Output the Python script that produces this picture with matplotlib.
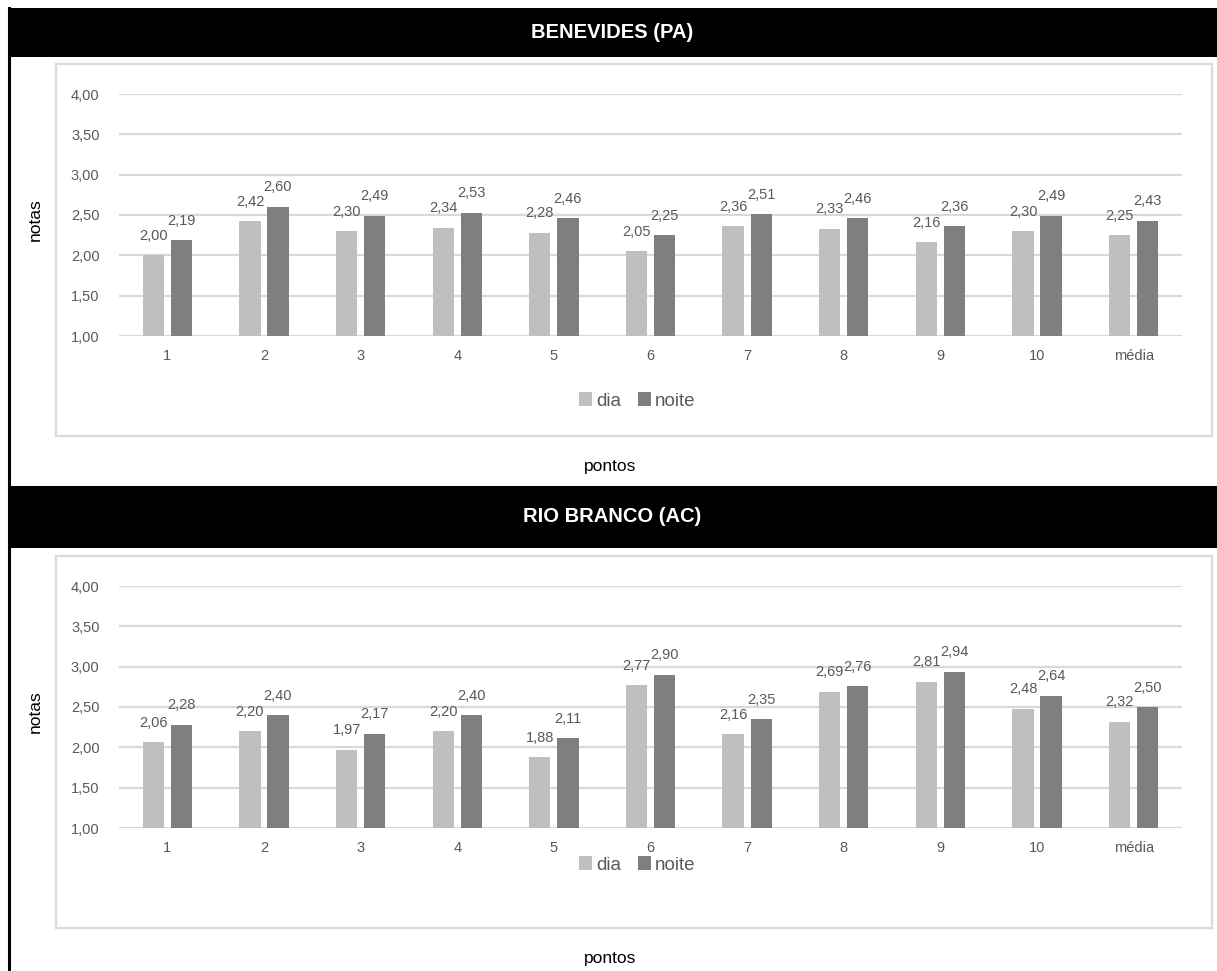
import matplotlib
matplotlib.use("Agg")
import matplotlib.pyplot as plt
from matplotlib.patches import Rectangle
from matplotlib.lines import Line2D
import numpy as np

plt.rcParams['font.family'] = ['Liberation Sans', 'DejaVu Sans']

categories = ["1", "2", "3", "4", "5", "6", "7", "8", "9", "10", "média"]
series_names = ["dia", "noite"]
titles = ["BENEVIDES (PA)", "RIO BRANCO (AC)"]

benevides_dia = [2.00, 2.42, 2.30, 2.34, 2.28, 2.05, 2.36, 2.33, 2.16, 2.30, 2.25]
benevides_noite = [2.19, 2.60, 2.49, 2.53, 2.46, 2.25, 2.51, 2.46, 2.36, 2.49, 2.43]
riobranco_dia = [2.06, 2.20, 1.97, 2.20, 1.88, 2.77, 2.16, 2.69, 2.81, 2.48, 2.32]
riobranco_noite = [2.28, 2.40, 2.17, 2.40, 2.11, 2.90, 2.35, 2.76, 2.94, 2.64, 2.50]

yticks = [1.0, 1.5, 2.0, 2.5, 3.0, 3.5, 4.0]

W, H = 1217, 971
DPI = 100
fig = plt.figure(figsize=(W / DPI, H / DPI), dpi=DPI)
fig.patch.set_facecolor("white")

C_DIA = "#bfbfbf"
C_NOITE = "#7f7f7f"
C_GRID = "#d9d9d9"
C_TXT = "#595959"


def fx(px):
    return px / W


def fy(py):
    return 1 - py / H


def fmt(v):
    return f"{v:.2f}".replace(".", ",")


# left black border line
fig.add_artist(Line2D([fx(9), fx(9)], [fy(8), fy(971)], color="black", lw=2.2,
                      transform=fig.transFigure))

panels = [
    dict(title=titles[0], dia=benevides_dia, noite=benevides_noite,
         head=(8, 57), box=(64, 436), plot=(94, 336), legend_y=401, pontos_y=466),
    dict(title=titles[1], dia=riobranco_dia, noite=riobranco_noite,
         head=(486, 548), box=(556, 928), plot=(586, 828), legend_y=865, pontos_y=958),
]

for p in panels:
    h0, h1 = p["head"]
    # header band
    fig.add_artist(Rectangle((fx(8), fy(h1)), fx(W - 8), (h1 - h0) / H,
                             facecolor="black", edgecolor="none",
                             transform=fig.transFigure))
    fig.text(fx(612), fy((h0 + h1) / 2), p["title"], color="white",
             fontsize=14.5, fontweight="bold", ha="center", va="center")
    # chart box
    b0, b1 = p["box"]
    fig.add_artist(Rectangle((fx(56), fy(b1)), fx(1212 - 56), (b1 - b0) / H,
                             facecolor="none", edgecolor=C_GRID, lw=1.6,
                             transform=fig.transFigure))
    # plot axes
    p0, p1 = p["plot"]
    ax = fig.add_axes([fx(119), fy(p1), fx(1182 - 119), (p1 - p0) / H])
    x = np.arange(len(categories))
    w = 0.22
    off = 0.145
    bd = ax.bar(x - off, p["dia"], w, bottom=0, color=C_DIA, label=series_names[0], zorder=3)
    bn = ax.bar(x + off, p["noite"], w, bottom=0, color=C_NOITE, label=series_names[1], zorder=3)
    ax.set_ylim(1, 4)
    ax.set_xlim(-0.5, len(categories) - 0.5)
    ax.set_yticks(yticks)
    ax.set_yticklabels([fmt(t) for t in yticks])
    ax.set_xticks(x)
    ax.set_xticklabels(categories)
    ax.tick_params(axis="both", length=0, labelsize=10.5, labelcolor=C_TXT)
    ax.tick_params(axis="y", pad=14)
    ax.tick_params(axis="x", pad=9)
    for s in ax.spines.values():
        s.set_visible(False)
    ax.grid(axis="y", color=C_GRID, lw=1.6, zorder=0)
    ax.set_axisbelow(True)
    for xi, v in zip(x, p["dia"]):
        ax.annotate(fmt(v), (xi - off, v), xytext=(0, 9), textcoords="offset points",
                    ha="center", va="bottom", fontsize=10.5, color=C_TXT)
    for xi, v in zip(x, p["noite"]):
        ax.annotate(fmt(v), (xi + off, v), xytext=(0, 9), textcoords="offset points",
                    ha="center", va="bottom", fontsize=10.5, color=C_TXT)
    # legend
    fig.legend(handles=[bd, bn], labels=series_names, loc="center",
               bbox_to_anchor=(fx(637), fy(p["legend_y"])), ncol=2, frameon=False,
               fontsize=13.5, labelcolor=C_TXT, handlelength=0.7, handleheight=0.7,
               handletextpad=0.2, columnspacing=0.9)
    # axis titles
    fig.text(fx(35), fy((p0 + p1) / 2 + 5), "notas", rotation=90, ha="center",
             va="center", fontsize=12.5, color="black")
    fig.text(fx(610), fy(p["pontos_y"]), "pontos", ha="center", va="center",
             fontsize=12.5, color="black")

fig.savefig("out.png", dpi=DPI, facecolor="white")
